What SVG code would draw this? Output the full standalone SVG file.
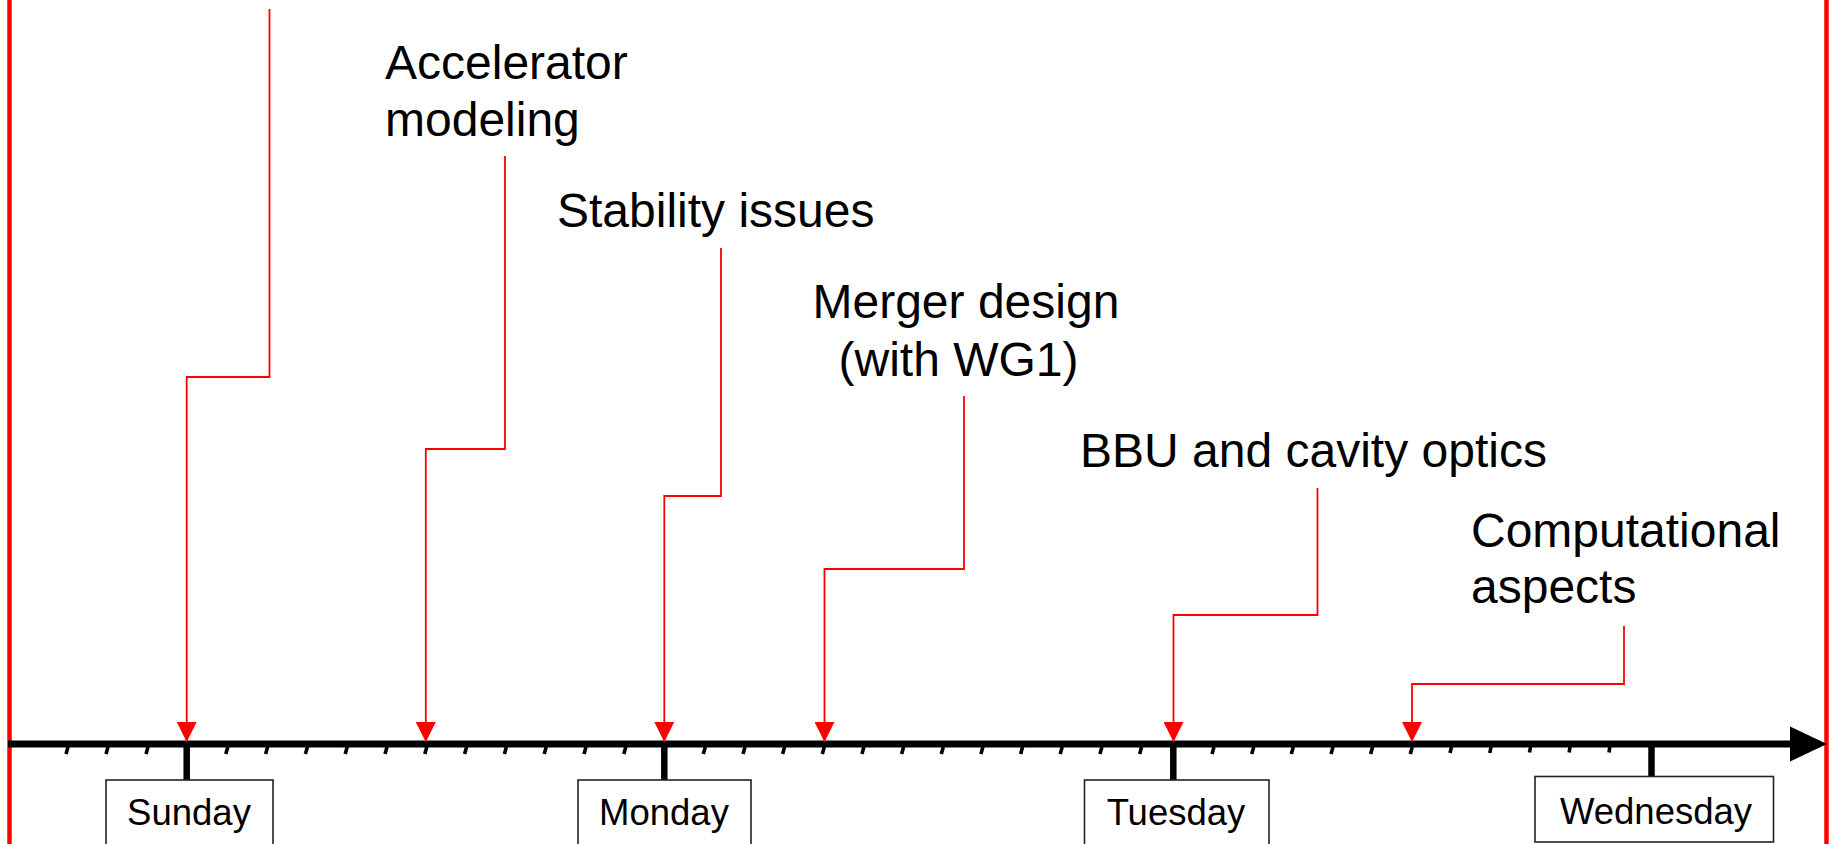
<svg xmlns="http://www.w3.org/2000/svg" width="1829" height="844" viewBox="0 0 1829 844">
<style>
.lbl{font-family:"Liberation Sans",Arial,sans-serif;font-size:48px;fill:#000}
.day{font-family:"Liberation Sans",Arial,sans-serif;font-size:36.5px;fill:#000;text-anchor:middle}
.box{fill:#fff;stroke:#222;stroke-width:1.6}
.conn{fill:none;stroke:#ff0000;stroke-width:1.8;marker-end:url(#ah)}
.tick{stroke:#000;stroke-width:3.6}
.major{stroke:#000;stroke-width:6.5}
.frame{stroke:#ff0000;stroke-width:4.5}
</style>
<defs>
<marker id="ah" markerUnits="userSpaceOnUse" markerWidth="20" markerHeight="20" refX="20" refY="10" orient="auto" viewBox="0 0 20 20">
<path d="M0,0 L20,10 L0,20 z" fill="#ff0000"/>
</marker>
</defs>
<rect width="1829" height="844" fill="#fff"/>
<g id="frame">
<line class="frame" x1="9.5" y1="0" x2="9.5" y2="844"/>
<line class="frame" x1="1826.5" y1="0" x2="1826.5" y2="844"/>
</g>
<g id="axis">
<line x1="8" y1="744" x2="1792" y2="744" stroke="#000" stroke-width="7"/>
<polygon points="1790,726.5 1827,744 1790,761.5" fill="#000"/>
<g id="minor-ticks">
<line class="tick" x1="68" y1="747" x2="66" y2="754"/>
<line class="tick" x1="108" y1="747" x2="106" y2="754"/>
<line class="tick" x1="148" y1="747" x2="146" y2="754"/>
<line class="tick" x1="227.8" y1="747" x2="225.8" y2="754"/>
<line class="tick" x1="267.6" y1="747" x2="265.6" y2="754"/>
<line class="tick" x1="307.4" y1="747" x2="305.4" y2="754"/>
<line class="tick" x1="347.2" y1="747" x2="345.2" y2="754"/>
<line class="tick" x1="387" y1="747" x2="385" y2="754"/>
<line class="tick" x1="426.8" y1="747" x2="424.8" y2="754"/>
<line class="tick" x1="466.6" y1="747" x2="464.6" y2="754"/>
<line class="tick" x1="506.4" y1="747" x2="504.4" y2="754"/>
<line class="tick" x1="546.2" y1="747" x2="544.2" y2="754"/>
<line class="tick" x1="586" y1="747" x2="584" y2="754"/>
<line class="tick" x1="625.8" y1="747" x2="623.8" y2="754"/>
<line class="tick" x1="705.3" y1="747" x2="703.3" y2="754"/>
<line class="tick" x1="745" y1="747" x2="743" y2="754"/>
<line class="tick" x1="784.6" y1="747" x2="782.6" y2="754"/>
<line class="tick" x1="824.3" y1="747" x2="822.3" y2="754"/>
<line class="tick" x1="863.9" y1="747" x2="861.9" y2="754"/>
<line class="tick" x1="903.6" y1="747" x2="901.6" y2="754"/>
<line class="tick" x1="943.3" y1="747" x2="941.3" y2="754"/>
<line class="tick" x1="982.9" y1="747" x2="980.9" y2="754"/>
<line class="tick" x1="1022.6" y1="747" x2="1020.6" y2="754"/>
<line class="tick" x1="1062.2" y1="747" x2="1060.2" y2="754"/>
<line class="tick" x1="1101.9" y1="747" x2="1099.9" y2="754"/>
<line class="tick" x1="1141.6" y1="747" x2="1139.6" y2="754"/>
<line class="tick" x1="1214" y1="747" x2="1212" y2="754"/>
<line class="tick" x1="1253.7" y1="747" x2="1251.7" y2="754"/>
<line class="tick" x1="1293.3" y1="747" x2="1291.3" y2="754"/>
<line class="tick" x1="1333" y1="747" x2="1331" y2="754"/>
<line class="tick" x1="1372.6" y1="747" x2="1370.6" y2="754"/>
<line class="tick" x1="1412.3" y1="747" x2="1410.3" y2="754"/>
<line class="tick" x1="1451.5" y1="747" x2="1450" y2="753"/>
<line class="tick" x1="1491" y1="747" x2="1489.8" y2="753"/>
<line class="tick" x1="1530.5" y1="747" x2="1529.5" y2="752.5"/>
<line class="tick" x1="1570" y1="747" x2="1569.2" y2="752.5"/>
<line class="tick" x1="1609.8" y1="747" x2="1609" y2="752.5"/>
</g>
<g id="major-ticks">
<line class="major" x1="186.7" y1="744" x2="186.7" y2="781"/>
<line class="major" x1="664.3" y1="744" x2="664.3" y2="781"/>
<line class="major" x1="1173.3" y1="744" x2="1173.3" y2="781"/>
<line class="major" x1="1651.5" y1="744" x2="1651.5" y2="778"/>
</g>
</g>
<g id="connectors">
<path class="conn" d="M269.5,9 V377 H186.7 V742"/>
<path class="conn" d="M505,156 V449 H425.8 V742"/>
<path class="conn" d="M721,248 V496 H664.3 V742"/>
<path class="conn" d="M964,396 V569 H824.5 V742"/>
<path class="conn" d="M1317.5,488 V615 H1173.5 V742"/>
<path class="conn" d="M1624,626 V684 H1412 V742"/>
</g>
<g id="node-accelerator"><text class="lbl" x="385" y="79">Accelerator</text><text class="lbl" x="385" y="136">modeling</text></g>
<g id="node-stability"><text class="lbl" x="557" y="227">Stability issues</text></g>
<g id="node-merger"><text class="lbl" x="812.5" y="318">Merger design</text><text class="lbl" x="838.5" y="376">(with WG1)</text></g>
<g id="node-bbu"><text class="lbl" x="1080" y="467">BBU and cavity optics</text></g>
<g id="node-computational"><text class="lbl" x="1471" y="547">Computational</text><text class="lbl" x="1471" y="603">aspects</text></g>
<g id="day-sunday"><rect class="box" x="106" y="780" width="167" height="70"/><text class="day" x="189" y="824.5">Sunday</text></g>
<g id="day-monday"><rect class="box" x="578" y="780" width="173" height="70"/><text class="day" x="664" y="824.5">Monday</text></g>
<g id="day-tuesday"><rect class="box" x="1084.5" y="780" width="184.5" height="70"/><text class="day" x="1176" y="824.5">Tuesday</text></g>
<g id="day-wednesday"><rect class="box" x="1535" y="776.5" width="238.5" height="65.5"/><text class="day" x="1656" y="823.5">Wednesday</text></g>
</svg>
